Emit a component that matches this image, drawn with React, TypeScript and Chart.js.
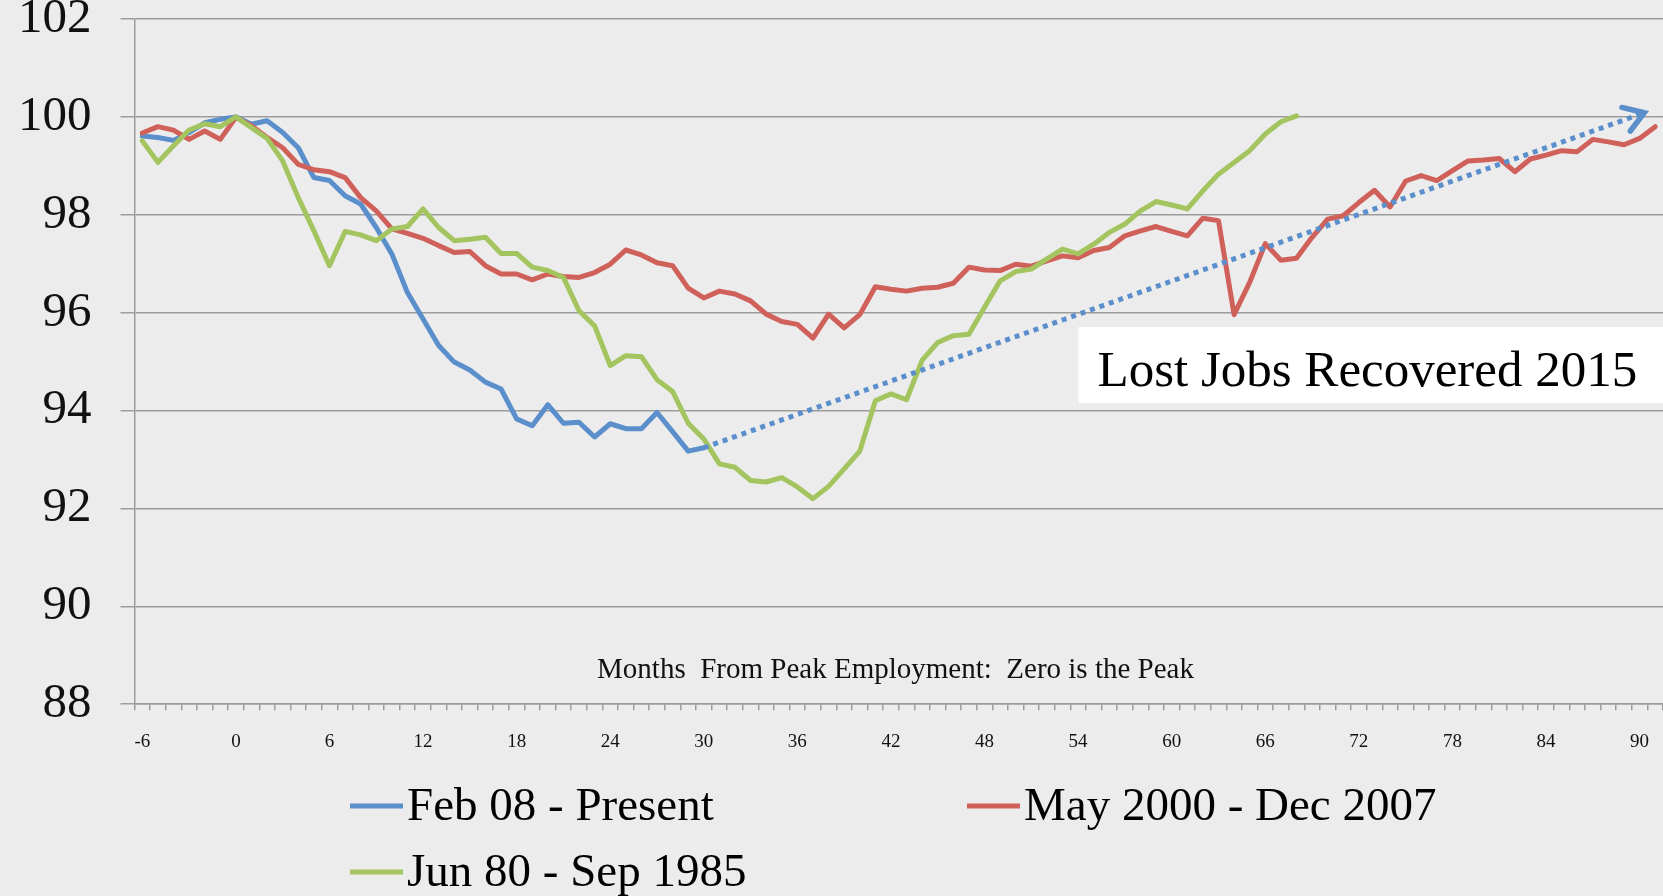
import React, { useEffect, useRef } from 'react';
import { Chart, registerables } from 'chart.js';

Chart.register(...registerables);

// Months from peak employment (-6 .. 91)
const months: number[] = Array.from({ length: 98 }, (_, i) => i - 6);
const xTickLabels = ['-6', '0', '6', '12', '18', '24', '30', '36', '42', '48', '54', '60', '66', '72', '78', '84', '90'];
const yTicks = [88, 90, 92, 94, 96, 98, 100, 102];

const seriesLabels = ['Feb 08 - Present', 'May 2000 - Dec 2007', 'Jun 80 - Sep 1985'];

// Feb 08 - Present, months -6 .. 30
const feb08: number[] = [
  99.61, 99.58, 99.52, 99.68, 99.88, 99.95, 100.0, 99.85, 99.92, 99.68,
  99.37, 98.76, 98.7, 98.39, 98.22, 97.74, 97.2, 96.41, 95.87, 95.33,
  94.99, 94.83, 94.58, 94.44, 93.83, 93.69, 94.12, 93.74, 93.76, 93.46,
  93.73, 93.63, 93.63, 93.96, 93.57, 93.17, 93.24,
];

// May 2000 - Dec 2007, months -6 .. 91
const may2000: number[] = [
  99.67, 99.8, 99.73, 99.54, 99.71, 99.54, 99.99, 99.82, 99.58, 99.37,
  99.03, 98.92, 98.88, 98.76, 98.35, 98.08, 97.71, 97.62, 97.52, 97.37,
  97.23, 97.25, 96.96, 96.79, 96.79, 96.67, 96.79, 96.74, 96.72, 96.82,
  96.99, 97.28, 97.18, 97.02, 96.96, 96.5, 96.3, 96.44, 96.38, 96.24,
  95.97, 95.82, 95.76, 95.48, 95.97, 95.69, 95.96, 96.53, 96.48, 96.44,
  96.5, 96.52, 96.6, 96.93, 96.87, 96.86, 96.99, 96.95, 97.06, 97.16,
  97.12, 97.27, 97.33, 97.57, 97.67, 97.76, 97.66, 97.57, 97.93, 97.88,
  95.96, 96.62, 97.41, 97.07, 97.11, 97.54, 97.91, 97.98, 98.25, 98.5,
  98.16, 98.69, 98.8, 98.7, 98.9, 99.1, 99.12, 99.15, 98.88, 99.14,
  99.22, 99.31, 99.29, 99.54, 99.49, 99.43, 99.56, 99.8,
];

// Jun 80 - Sep 1985, months -6 .. 68
const jun80: number[] = [
  99.51, 99.07, 99.41, 99.73, 99.86, 99.8, 100.0, 99.78, 99.56, 99.1,
  98.35, 97.67, 96.96, 97.66, 97.59, 97.47, 97.71, 97.76, 98.12, 97.74,
  97.47, 97.5, 97.54, 97.21, 97.21, 96.93, 96.86, 96.72, 96.04, 95.73,
  94.92, 95.12, 95.1, 94.63, 94.39, 93.74, 93.42, 92.91, 92.84, 92.57,
  92.54, 92.63, 92.44, 92.2, 92.45, 92.81, 93.17, 94.2, 94.34, 94.22,
  95.03, 95.39, 95.53, 95.56, 96.11, 96.65, 96.84, 96.89, 97.1, 97.3,
  97.2, 97.4, 97.64, 97.81, 98.08, 98.27, 98.2, 98.12, 98.49, 98.83,
  99.07, 99.31, 99.65, 99.9, 100.02,
];

// Projected recovery trend (dotted arrow)
const trendMonths = [30, 90];
const trendValues = [93.24, 100.05];

const annotationText = 'Lost Jobs Recovered 2015';
const axisTitle = 'Months  From Peak Employment:  Zero is the Peak';

const BLUE = '#5A8FCC';
const RED = '#D0605A';
const GREEN = '#A3C45E';
const GRID = '#9c9c9c';
const FONT = '"Liberation Serif", "DejaVu Serif", serif';

function pad(arr: number[]): (number | null)[] {
  return months.map((_, i) => (i < arr.length ? arr[i] : null));
}

function trendData(): (number | null)[] {
  return months.map((m) => {
    const k = trendMonths.indexOf(m);
    return k >= 0 ? trendValues[k] : null;
  });
}

const arrowPlugin = {
  id: 'trendArrow',
  afterDatasetsDraw(chart: any) {
    const meta = chart.getDatasetMeta(3);
    const i0 = months.indexOf(trendMonths[0]);
    const i1 = months.indexOf(trendMonths[trendMonths.length - 1]);
    const p0 = meta.data[i0];
    const p1 = meta.data[i1];
    if (!p0 || !p1) return;
    const dx = p1.x - p0.x;
    const dy = p1.y - p0.y;
    const len = Math.hypot(dx, dy);
    const ux = dx / len;
    const uy = dy / len;
    const tipX = p1.x + ux * 5;
    const tipY = p1.y + uy * 5;
    const ang = Math.atan2(-uy, -ux);
    const spread = (33 * Math.PI) / 180;
    const arm = 23;
    const ctx = chart.ctx;
    ctx.save();
    ctx.strokeStyle = BLUE;
    ctx.lineWidth = 5.5;
    ctx.lineCap = 'round';
    ctx.lineJoin = 'miter';
    ctx.beginPath();
    ctx.moveTo(tipX + Math.cos(ang + spread) * arm, tipY + Math.sin(ang + spread) * arm);
    ctx.lineTo(tipX, tipY);
    ctx.lineTo(tipX + Math.cos(ang - spread) * arm, tipY + Math.sin(ang - spread) * arm);
    ctx.stroke();
    ctx.restore();
  },
};

const textPlugin = {
  id: 'textDecor',
  afterDraw(chart: any) {
    const ctx = chart.ctx;
    const area = chart.chartArea;
    ctx.save();
    // axis title inside plot
    ctx.fillStyle = '#111';
    ctx.font = `29px ${FONT}`;
    ctx.textAlign = 'center';
    ctx.textBaseline = 'middle';
    ctx.fillText(axisTitle, area.left + 761, area.bottom - 34);

    // annotation box
    const boxX = area.left + 944;
    ctx.fillStyle = '#ffffff';
    ctx.fillRect(boxX, area.top + 308, chart.width - boxX, 76);
    ctx.fillStyle = '#000';
    let size = 51;
    ctx.font = `${size}px ${FONT}`;
    const w = ctx.measureText(annotationText).width;
    size = size * Math.min(1, 543 / w);
    ctx.font = `${size}px ${FONT}`;
    ctx.textAlign = 'left';
    ctx.textBaseline = 'alphabetic';
    ctx.fillText(annotationText, area.left + 963, area.top + 367);

    // legend
    const slots = [
      { x: 350, y: 806 },
      { x: 967, y: 806 },
      { x: 350, y: 872 },
    ];
    slots.forEach((s, i) => {
      const ds = chart.data.datasets[i];
      ctx.strokeStyle = ds.borderColor;
      ctx.lineWidth = 5;
      ctx.lineCap = 'butt';
      ctx.beginPath();
      ctx.moveTo(s.x, s.y);
      ctx.lineTo(s.x + 53, s.y);
      ctx.stroke();
      ctx.fillStyle = '#000';
      ctx.font = `47px ${FONT}`;
      ctx.textAlign = 'left';
      ctx.textBaseline = 'middle';
      ctx.fillText(ds.label, s.x + 57, s.y + 2);
    });
    ctx.restore();
  },
};

export default function App() {
  const ref = useRef<HTMLCanvasElement | null>(null);

  useEffect(() => {
    if (!ref.current) return;
    const lineCommon = {
      borderWidth: 5,
      pointRadius: 0,
      fill: false,
      tension: 0,
      borderJoinStyle: 'round' as const,
      borderCapStyle: 'round' as const,
    };
    const chart = new Chart(ref.current, {
      type: 'line',
      data: {
        labels: months.map(String),
        datasets: [
          { ...lineCommon, label: seriesLabels[0], data: pad(feb08), borderColor: BLUE, backgroundColor: BLUE, order: 3 },
          { ...lineCommon, label: seriesLabels[1], data: pad(may2000), borderColor: RED, backgroundColor: RED, order: 2 },
          { ...lineCommon, label: seriesLabels[2], data: pad(jun80), borderColor: GREEN, backgroundColor: GREEN, order: 1 },
          {
            label: 'trend',
            data: trendData(),
            borderColor: BLUE,
            backgroundColor: BLUE,
            borderWidth: 5,
            borderDash: [5, 5],
            borderCapStyle: 'butt',
            pointRadius: 0,
            spanGaps: true,
            fill: false,
            order: 0,
          },
        ],
      },
      options: {
        animation: false,
        responsive: true,
        maintainAspectRatio: false,
        layout: { padding: { left: 18, right: 0, top: 19, bottom: 123 } },
        plugins: {
          legend: { display: false },
          tooltip: { enabled: false },
        },
        scales: {
          x: {
            type: 'category',
            offset: true,
            afterFit: (axis: any) => {
              axis.paddingLeft = 0;
              axis.paddingRight = 0;
            },
            grid: {
              display: true,
              drawOnChartArea: false,
              drawTicks: true,
              tickLength: 6,
              offset: true,
              color: GRID,
              lineWidth: 1.5,
            },
            border: { display: true, color: GRID, width: 1.5 },
            ticks: {
              autoSkip: false,
              maxRotation: 0,
              minRotation: 0,
              padding: 20,
              color: '#111',
              font: { family: FONT, size: 19 },
              callback: (_v: any, idx: number) => {
                const s = String(months[idx]);
                return xTickLabels.includes(s) ? s : '';
              },
            },
          },
          y: {
            min: yTicks[0],
            max: yTicks[yTicks.length - 1],
            afterBuildTicks: (axis: any) => {
              axis.ticks = yTicks.map((v) => ({ value: v }));
            },
            afterFit: (axis: any) => {
              axis.paddingTop = 0;
              axis.paddingBottom = 0;
              axis.width = axis.width - axis.options.ticks.padding;
            },
            ticks: {
              stepSize: 2,
              padding: 29,
              color: '#111',
              font: { family: FONT, size: 49, lineHeight: 0.8 },
            },
            grid: { color: GRID, lineWidth: 1.5, tickLength: 14, drawTicks: true },
            border: { display: true, color: GRID, width: 1.5 },
          },
        },
      },
      plugins: [arrowPlugin, textPlugin],
    });
    return () => chart.destroy();
  }, []);

  return (
    <div
      style={{
        position: 'fixed',
        left: 0,
        top: 0,
        width: 1663,
        height: 896,
        background: '#ececec',
      }}
    >
      <canvas ref={ref} />
    </div>
  );
}
